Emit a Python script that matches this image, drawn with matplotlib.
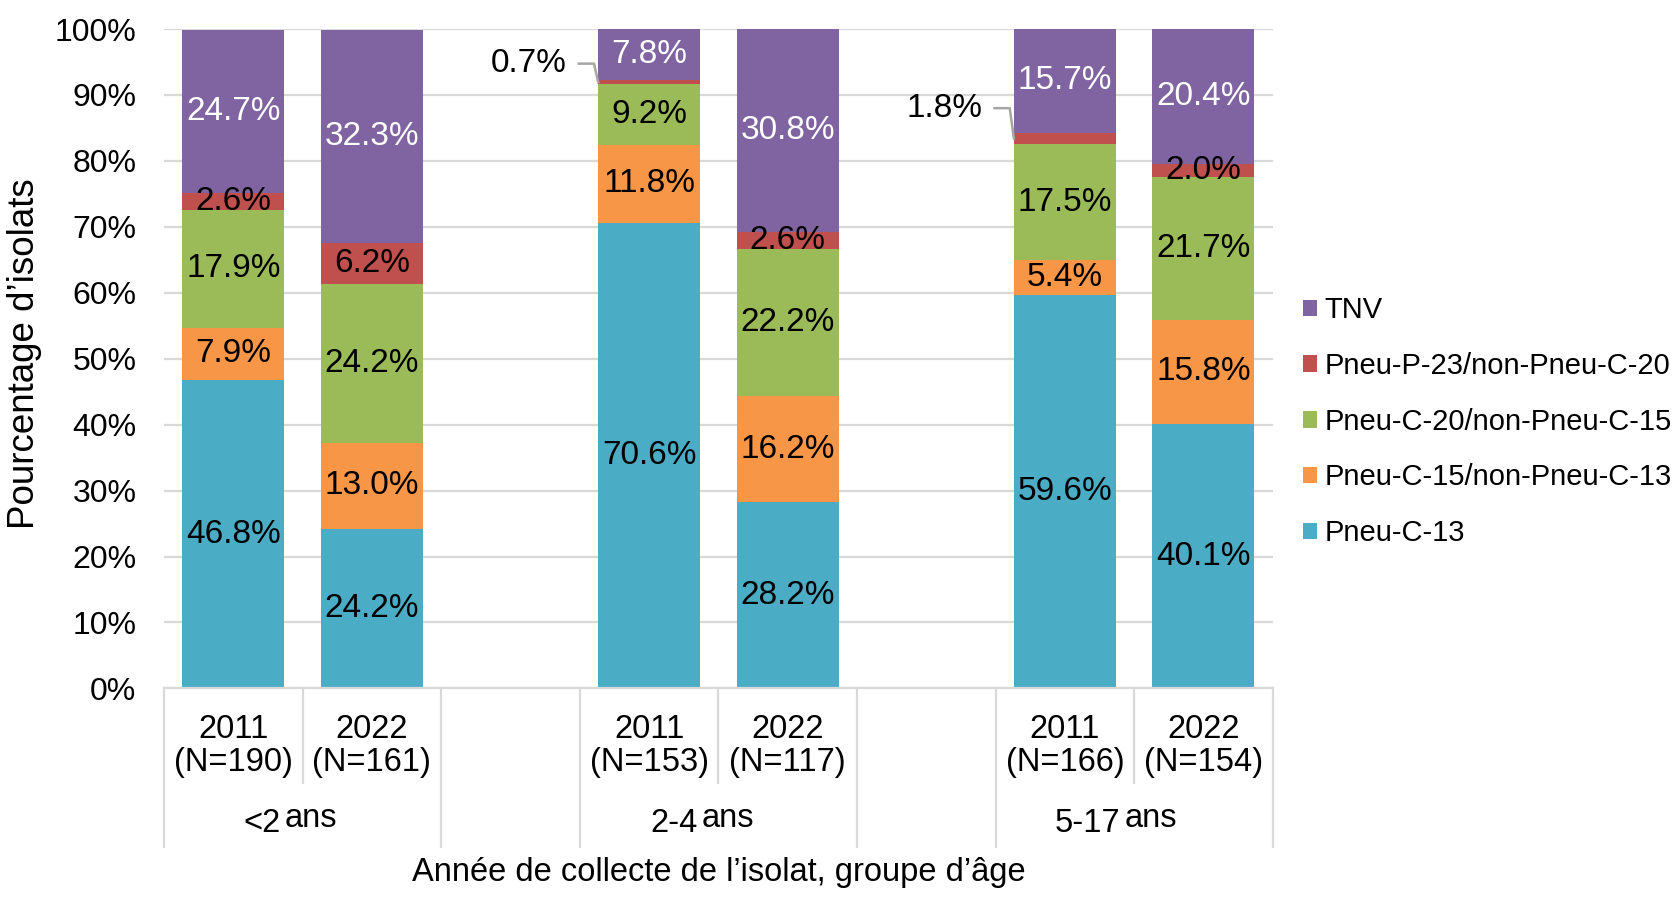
import matplotlib.pyplot as plt
from matplotlib.transforms import blended_transform_factory

plt.rcParams['font.family'] = ['Liberation Sans', 'DejaVu Sans']

# data
groups = ["<2", "2-4", "5-17"]
years = ["2011", "2022"]
n_counts = [190, 161, 153, 117, 166, 154]
series = ["Pneu-C-13", "Pneu-C-15/non-Pneu-C-13", "Pneu-C-20/non-Pneu-C-15",
          "Pneu-P-23/non-Pneu-C-20", "TNV"]
pcv13 = [46.8, 24.2, 70.6, 28.2, 59.6, 40.1]
pcv15 = [7.9, 13.0, 11.8, 16.2, 5.4, 15.8]
pcv20 = [17.9, 24.2, 9.2, 22.2, 17.5, 21.7]
ppv23 = [2.6, 6.2, 0.7, 2.6, 1.8, 2.0]
tnv = [24.7, 32.3, 7.8, 30.8, 15.7, 20.4]

colors = ["#4BACC6", "#F79646", "#9BBB59", "#C0504D", "#8064A2"]
text_colors = ["black", "black", "black", "black", "white"]
grid_col = "#D9D9D9"

# 8 slots, one blank slot between groups
pos = [0, 1, 3, 4, 6, 7]
width = 0.735

fig = plt.figure(figsize=(16.81, 9.07), dpi=100)
ax = fig.add_axes([0.0976, 0.241, 0.6595, 0.727])

values = [pcv13, pcv15, pcv20, ppv23, tnv]
bottom = [0.0] * len(pos)
bars = []
for vals, col, tcol, name in zip(values, colors, text_colors, series):
    b = ax.bar(pos, vals, width, bottom=bottom, color=col, label=name, zorder=2)
    bars.append(b)
    for i, (x, v) in enumerate(zip(pos, vals)):
        if v >= 2.0:
            ax.text(x, bottom[i] + v / 2, f"{v:.1f}%", ha="center", va="center",
                    fontsize=24, color=tcol, zorder=3)
        else:
            # small segment: label outside with a leader line
            y_seg = bottom[i] + v / 2
            x_edge = x - width / 2
            y_txt = y_seg + (2.8 if v < 1 else 4.6)
            x_txt = x_edge - 0.23
            ax.text(x_txt, y_txt, f"{v:.1f}%", ha="right", va="center",
                    fontsize=24, color="black", zorder=3)
            ax.plot([x_txt + 0.09, x_edge - 0.03, x_edge], [y_txt, y_txt, y_seg],
                    color="#A6A6A6", lw=1.8, zorder=3, clip_on=False)
    bottom = [b0 + v for b0, v in zip(bottom, vals)]

ax.set_xlim(-0.5, 7.5)
ax.set_ylim(0, 100)
ax.set_yticks(range(0, 101, 10))
ax.set_yticklabels([f"{t}%" for t in range(0, 101, 10)], fontsize=23)
ax.tick_params(axis="y", length=0, pad=20)
ax.set_xticks([])
ax.yaxis.grid(True, color=grid_col, lw=1.6, zorder=0)
ax.set_axisbelow(True)
for s in ["top", "right", "left"]:
    ax.spines[s].set_visible(False)
ax.spines["bottom"].set_color(grid_col)
ax.spines["bottom"].set_linewidth(1.6)
ax.set_ylabel("Pourcentage d\u2019isolats", fontsize=26.5)
ax.yaxis.set_label_coords(-0.110, 0.507)

# multi-level category axis
tr = blended_transform_factory(ax.transData, ax.transAxes)
for k in range(9):
    x = k - 0.5
    y_end = -0.144 if k in (1, 4, 7) else -0.241
    ax.plot([x, x], [0, y_end], color=grid_col, lw=1.6, transform=tr, clip_on=False)

labels_year = [years[i % 2] for i in range(6)]
for x, yr, n in zip(pos, labels_year, n_counts):
    ax.text(x, -0.088, f"{yr}\n(N={n})", ha="center", va="center", fontsize=23.5,
            linespacing=1.08, transform=tr)

group_centers = [0.5, 3.5, 6.5]
group_offsets = [-0.16, -0.15, -0.10]
for g, c, off in zip(groups, group_centers, group_offsets):
    ax.text(c + off, -0.205, g, ha="right", va="center", fontsize=23.5, transform=tr)
    ax.text(c + off + 0.03, -0.197, "ans", ha="left", va="center", fontsize=23.5,
            transform=tr)

ax.text(3.5, -0.279, "Ann\u00e9e de collecte de l\u2019isolat, groupe d\u2019\u00e2ge",
        ha="center", va="center", fontsize=23.5, transform=tr)

handles = bars[::-1]
fig.legend(handles, series[::-1], loc="center left", bbox_to_anchor=(0.768, 0.535),
           frameon=False, fontsize=21, handlelength=0.5, handleheight=0.5,
           handletextpad=0.25, labelspacing=0.95, borderaxespad=0)

fig.savefig("out.png", dpi=100)
